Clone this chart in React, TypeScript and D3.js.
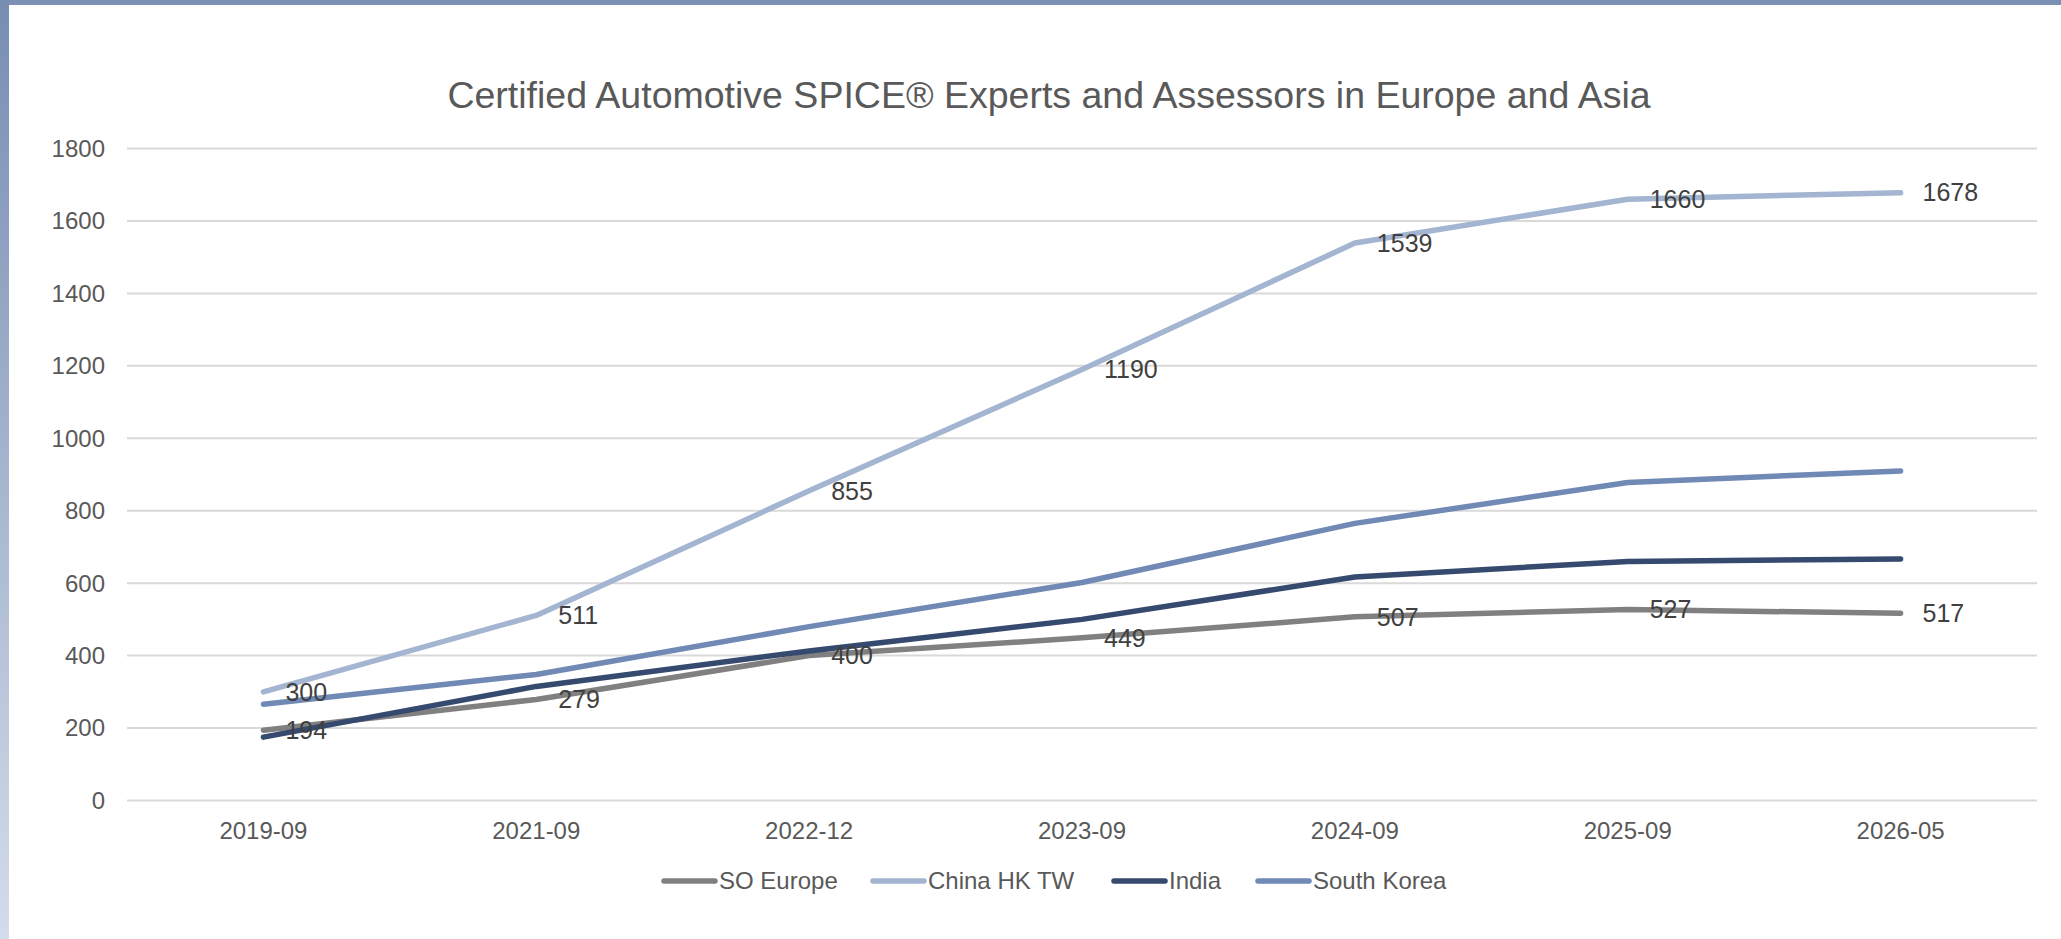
import * as React from 'react';
import { scaleBand, scaleLinear, line as d3line } from 'd3';

const categories = ['2019-09', '2021-09', '2022-12', '2023-09', '2024-09', '2025-09', '2026-05'];

const soEurope = [194, 279, 400, 449, 507, 527, 517];
const chinaHkTw = [300, 511, 855, 1190, 1539, 1660, 1678];
const india = [175, 315, 413, 500, 617, 660, 667];
const southKorea = [266, 348, 480, 602, 765, 878, 910];

const yTicks = [0, 200, 400, 600, 800, 1000, 1200, 1400, 1600, 1800];

const series = [
  { name: 'SO Europe', values: soEurope, color: '#808080', labels: true },
  { name: 'China HK TW', values: chinaHkTw, color: '#a3b5d1', labels: true },
  { name: 'India', values: india, color: '#354a6e', labels: false },
  { name: 'South Korea', values: southKorea, color: '#7089b5', labels: false },
];

const W = 2061;
const H = 939;
const FONT = '"Liberation Sans", Arial, sans-serif';

// legend item start positions (line sample then text)
const legendX = [661, 870, 1111, 1255];

export default function App() {
  const x = scaleBand<string>().domain(categories).range([127, 2037]).padding(0);
  const y = scaleLinear().domain([0, 1800]).range([800.5, 148.5]);
  const cx = (c: string) => (x(c) ?? 0) + x.bandwidth() / 2;

  const lineGen = d3line<number>()
    .x((_, i) => cx(categories[i]))
    .y(v => y(v));

  return (
    <svg width={W} height={H} viewBox={`0 0 ${W} ${H}`}
      style={{ position: 'fixed', left: 0, top: 0, display: 'block', background: '#fff' }}
      fontFamily={FONT}>
      <defs>
        <linearGradient id="sideBar" x1="0" y1="0" x2="0" y2="1">
          <stop offset="0" stopColor="#778db2" />
          <stop offset="1" stopColor="#d3dcea" />
        </linearGradient>
      </defs>
      <rect x={0} y={0} width={W} height={H} fill="#fff" />
      {/* frame decoration */}
      <rect x={0} y={0} width={W} height={5} fill="#7b90b4" />
      <rect x={0} y={0} width={9} height={H} fill="url(#sideBar)" />

      <text x={1049} y={108} textAnchor="middle" fontSize={37.5} fill="#595959">
        Certified Automotive SPICE® Experts and Assessors in Europe and Asia
      </text>

      {/* gridlines + y labels */}
      {yTicks.map(t => (
        <g key={t}>
          <line x1={127} x2={2037} y1={y(t)} y2={y(t)} stroke="#d9d9d9" strokeWidth={2} />
          <text x={105} y={y(t)} dy="0.35em" textAnchor="end" fontSize={24} fill="#595959">{t}</text>
        </g>
      ))}

      {/* x labels */}
      {categories.map(c => (
        <text key={c} x={cx(c)} y={839} textAnchor="middle" fontSize={24} fill="#595959">{c}</text>
      ))}

      {/* lines */}
      {series.map(s => (
        <path key={s.name} d={lineGen(s.values) ?? ''} fill="none" stroke={s.color}
          strokeWidth={5.5} strokeLinecap="round" strokeLinejoin="round" />
      ))}

      {/* data labels */}
      {series.filter(s => s.labels).map(s => (
        <g key={s.name + '-lbl'}>
          {s.values.map((v, i) => (
            <text key={i} x={cx(categories[i]) + 22} y={y(v)} dy="0.35em" fontSize={25} fill="#404040">{v}</text>
          ))}
        </g>
      ))}

      {/* legend */}
      {series.map((s, i) => (
        <g key={s.name + '-leg'} transform={`translate(${legendX[i]},881)`}>
          <line x1={3} x2={54} y1={0} y2={0} stroke={s.color} strokeWidth={5.5} strokeLinecap="round" />
          <text x={58} y={0} dy="0.35em" fontSize={24} fill="#595959">{s.name}</text>
        </g>
      ))}
    </svg>
  );
}
